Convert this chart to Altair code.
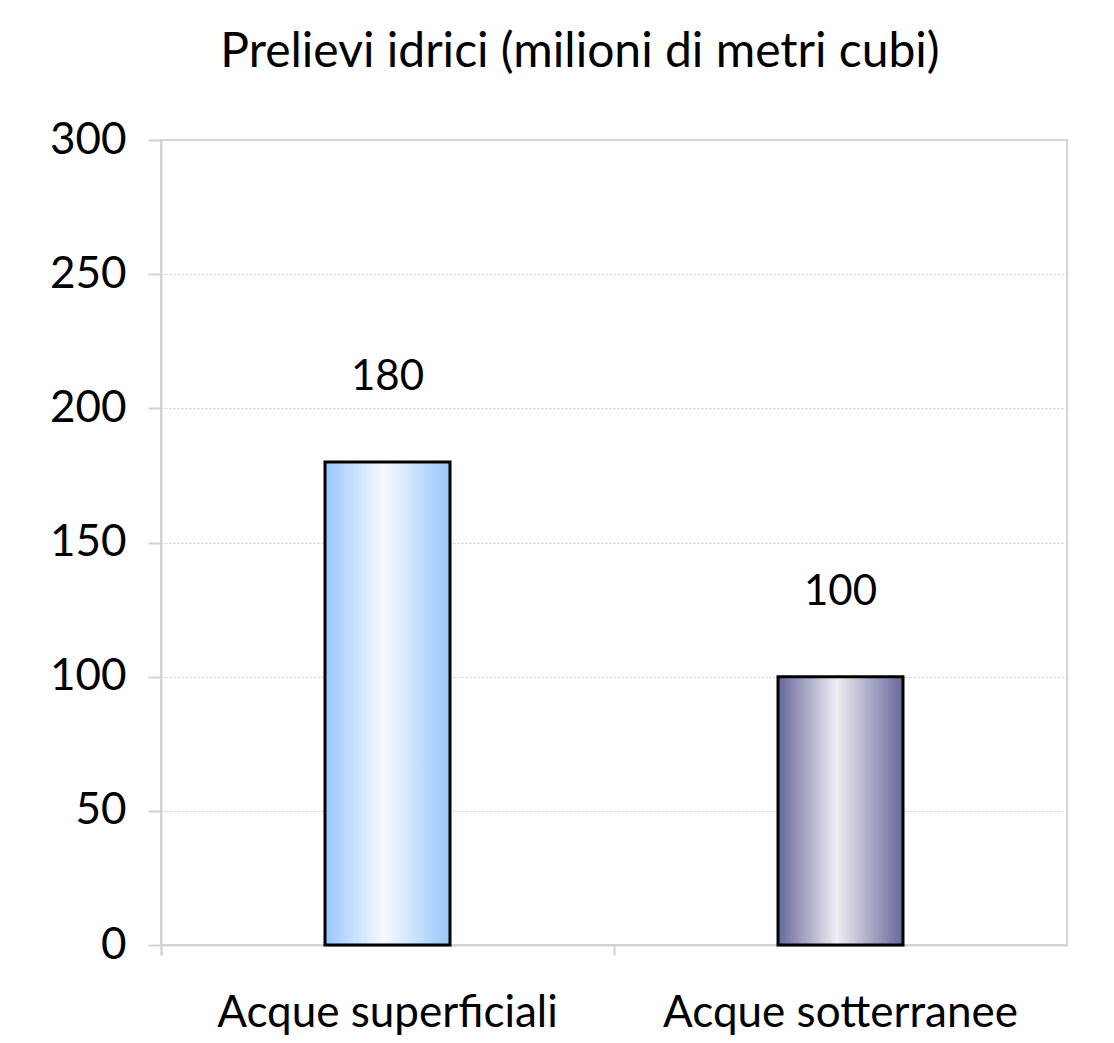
import altair as alt
import pandas as pd

categories = ["Acque superficiali", "Acque sotterranee"]
values = [180, 100]
y_ticks = [0, 50, 100, 150, 200, 250, 300]
title_text = "Prelievi idrici (milioni di metri cubi)"

df = pd.DataFrame({"categoria": categories, "valore": values})
df_title = pd.DataFrame({"titolo": [title_text]})

FONT = "Lato"
AXIS_GRAY = "#d2d2d2"


def grad(edge, center):
    return alt.LinearGradient(
        gradient="linear",
        stops=[
            alt.GradientStop(color=edge, offset=0),
            alt.GradientStop(color=center, offset=0.47),
            alt.GradientStop(color=edge, offset=1),
        ],
        x1=0, x2=1, y1=0, y2=0,
    )


fills = [grad("#98c6fc", "#f6faff"), grad("#67679a", "#eeeef4")]

x_enc = alt.X(
    "categoria:N",
    sort=categories,
    scale=alt.Scale(paddingInner=0, paddingOuter=0),
    axis=alt.Axis(
        title=None, labelAngle=0, bandPosition=0, tickExtra=True,
        domainColor=AXIS_GRAY, domainWidth=2, tickColor=AXIS_GRAY, tickWidth=2,
        tickSize=10, labelFont=FONT, labelFontSize=44, labelColor="black",
        labelPadding=36, labelLimit=0, grid=False,
    ),
)
y_enc = alt.Y(
    "valore:Q",
    scale=alt.Scale(domain=[0, 300], nice=False),
    axis=alt.Axis(
        title=None, values=y_ticks, grid=True, gridDash=[2, 2], gridColor="#cfcfcf",
        gridWidth=1, domainColor=AXIS_GRAY, domainWidth=2, tickColor=AXIS_GRAY,
        tickWidth=2, tickSize=13, labelFont=FONT, labelFontSize=44,
        labelColor="black", labelPadding=22,
    ),
)

base = alt.Chart(df)
bars = [
    base.transform_filter(alt.datum.categoria == cat)
    .mark_bar(size=125, fill=fills[i], stroke="black", strokeWidth=3)
    .encode(x=x_enc, y=y_enc)
    for i, cat in enumerate(categories)
]
labels = base.mark_text(
    baseline="alphabetic", dy=-72, font=FONT, fontSize=42, color="black"
).encode(x=alt.X("categoria:N", sort=categories), y="valore:Q", text="valore:Q")

title = alt.Chart(df_title).mark_text(
    baseline="alphabetic", align="center", font=FONT, fontSize=48, color="black"
).encode(x=alt.value(419), y=alt.value(-73), text="titolo:N")

chart = alt.layer(*bars, labels, title).properties(
    width=906,
    height=805,
    autosize=alt.AutoSizeParams(type="none"),
    padding={"left": 153, "top": 132, "right": 39, "bottom": 90},
    background="white",
).configure_view(stroke="#d6d6d6", strokeWidth=2)

chart.save("out.html", embed_options={"renderer": "svg", "actions": False})
